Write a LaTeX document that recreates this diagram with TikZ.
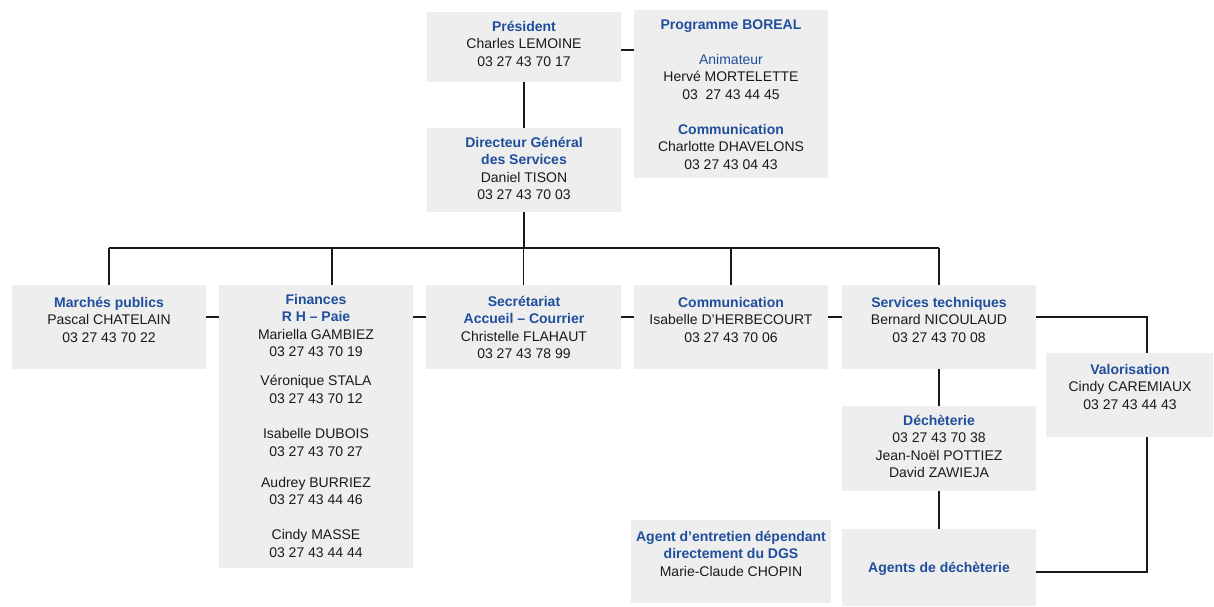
\documentclass[tikz,border=0pt]{standalone}
\usepackage{fontspec}
\setmainfont{Liberation Sans}
\usetikzlibrary{calc}
\definecolor{tblue}{HTML}{1F4E9C}
\definecolor{boxgray}{HTML}{EEEEEE}
\definecolor{txtgray}{HTML}{1A1A1A}
\newcommand{\ttl}[1]{{\rule{0pt}{12pt}\bfseries\color{tblue}#1}}
\newcommand{\sub}[1]{{\color{tblue}#1}}
\begin{document}
\begin{tikzpicture}[x=1pt,y=-1pt,
  orgbox/.style={fill=boxgray, draw=none, anchor=north west, inner sep=0pt, outer sep=0pt},
  btext/.style={anchor=north, inner sep=0pt, align=center, font=\fontsize{14}{17.5}\selectfont, text=txtgray},
  wire/.style={line width=1.8pt, draw=black!90}]
\useasboundingbox (0,0) rectangle (1214,606);
\fill[white] (0,0) rectangle (1214,606);
% boxes
\node[orgbox, minimum width=194pt, minimum height=70pt] (pres) at (427,12) {};
\node[orgbox, minimum width=194pt, minimum height=168pt] (boreal) at (634,10) {};
\node[orgbox, minimum width=194pt, minimum height=84pt] (dgs) at (427,128) {};
\node[orgbox, minimum width=194pt, minimum height=84pt] (marches) at (12,285) {};
\node[orgbox, minimum width=194pt, minimum height=283pt] (fin) at (219,285) {};
\node[orgbox, minimum width=195pt, minimum height=84pt] (secr) at (426,285) {};
\node[orgbox, minimum width=194pt, minimum height=84pt] (comm) at (634,285) {};
\node[orgbox, minimum width=194pt, minimum height=84pt] (serv) at (842,285) {};
\node[orgbox, minimum width=167pt, minimum height=84pt] (valo) at (1046,353) {};
\node[orgbox, minimum width=194pt, minimum height=85pt] (dech) at (842,406) {};
\node[orgbox, minimum width=194pt, minimum height=77pt] (agents) at (842,529) {};
\node[orgbox, minimum width=200pt, minimum height=83pt] (entr) at (631,520) {};
% helper coordinates
\coordinate (py) at (0,50);
\coordinate (bus) at (0,248);
\coordinate (rowy) at (0,317);
\coordinate (finx) at (332,0);
\coordinate (valx) at (1147,0);
\coordinate (agy) at (0,572);
% connectors
\draw[wire] (pres.east |- py) -- (boreal.west |- py);
\draw[wire] (pres.south) -- (dgs.north);
\draw[wire] (dgs.south) -- (dgs.south |- bus);
\draw[wire] (marches.north |- bus) -- (serv.north |- bus);
\draw[wire] (marches.north |- bus) -- (marches.north);
\draw[wire] (finx |- bus) -- (finx |- fin.north);
\draw[wire] (secr.north |- bus) -- (secr.north);
\draw[wire] (comm.north |- bus) -- (comm.north);
\draw[wire] (serv.north |- bus) -- (serv.north);
\draw[wire] (marches.east |- rowy) -- (fin.west |- rowy);
\draw[wire] (fin.east |- rowy) -- (secr.west |- rowy);
\draw[wire] (secr.east |- rowy) -- (comm.west |- rowy);
\draw[wire] (comm.east |- rowy) -- (serv.west |- rowy);
\draw[wire] (serv.east |- rowy) -| (valx |- valo.north);
\draw[wire] (valx |- valo.south) |- (agents.east |- agy);
\draw[wire] (serv.south) -- (dech.north);
\draw[wire] (dech.south) -- (agents.north);
% texts
\node[btext] (pres-t) at (524,19) {\ttl{Président}\\Charles LEMOINE\\03 27 43 70 17};
\node[btext] (boreal-t) at (731,17) {\ttl{Programme BOREAL}\\[17.5pt]\sub{Animateur}\\Hervé MORTELETTE\\03\ \ 27 43 44 45\\[17.5pt]\ttl{Communication}\\Charlotte DHAVELONS\\03 27 43 04 43};
\node[btext] (dgs-t) at (524,135) {\ttl{Directeur Général}\\\ttl{des Services}\\Daniel TISON\\03 27 43 70 03};
\node[btext] (marches-t) at (109,295) {\ttl{Marchés publics}\\Pascal CHATELAIN\\03 27 43 70 22};
\node[btext] (fin-t) at (316,292) {\ttl{Finances}\\\ttl{R H – Paie}\\Mariella GAMBIEZ\\03 27 43 70 19\\[11.5pt]Véronique STALA\\03 27 43 70 12\\[18pt]Isabelle DUBOIS\\03 27 43 70 27\\[13.5pt]Audrey BURRIEZ\\03 27 43 44 46\\[17.5pt]Cindy MASSE\\03 27 43 44 44};
\node[btext] (secr-t) at (524,294) {\ttl{Secrétariat}\\\ttl{Accueil – Courrier}\\Christelle FLAHAUT\\03 27 43 78 99};
\node[btext] (comm-t) at (731,295) {\ttl{Communication}\\Isabelle D'HERBECOURT\\03 27 43 70 06};
\node[btext] (serv-t) at (939,295) {\ttl{Services techniques}\\Bernard NICOULAUD\\03 27 43 70 08};
\node[btext] (valo-t) at (1130,362) {\ttl{Valorisation}\\Cindy CAREMIAUX\\03 27 43 44 43};
\node[btext] (dech-t) at (939,413) {\ttl{Déchèterie}\\03 27 43 70 38\\Jean-Noël POTTIEZ\\David ZAWIEJA};
\node[btext] (agents-t) at (939,560) {\ttl{Agents de déchèterie}};
\node[btext] (entr-t) at (731,529) {\ttl{Agent d’entretien dépendant}\\\ttl{directement du DGS}\\Marie-Claude CHOPIN};
\end{tikzpicture}
\end{document}
